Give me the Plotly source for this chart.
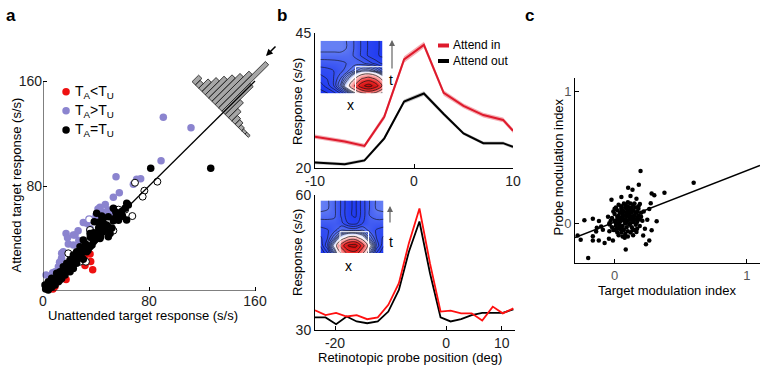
import numpy as np
import plotly.graph_objects as go

W, H = 767, 370
FONT = "Liberation Sans, Arial, Helvetica, sans-serif"

# ---------------- Panel a data ----------------
unity_x = [0, 160]
unity_y = [0, 160]
a_ticks = [0, 80, 160]

red_pts = [(31.7, 27.0), (35.5, 28.2), (36.0, 22.5), (31.7, 19.5), (37.5, 16.2),
           (17.4, 8.7), (9.0, 3.5), (7.5, 1.5)]
purple_pts = [(90.8, 132.3), (111.7, 124.4), (89.1, 99.3), (55.1, 87.1), (57.6, 74.9),
              (53.1, 71.4), (70.7, 85.1), (73.7, 85.6), (68.2, 81.3), (43.0, 63.8),
              (49.3, 61.7), (51.8, 59.2), (45.5, 60.2), (41.5, 62.5), (30.4, 52.1),
              (39.2, 54.1), (35.5, 46.5), (33.0, 51.6), (24.2, 42.7), (17.4, 43.9),
              (22.9, 42.7), (19.1, 35.8), (15.3, 30.0), (14.0, 25.0), (22.9, 35.0),
              (21.6, 26.1), (14.1, 28.7), (7.3, 14.0), (2.3, 12.2), (11.6, 18.5),
              (9.1, 14.7), (6.5, 10.8), (35.5, 47.7), (18.5, 40.5), (27.0, 38.5),
              (12.5, 22.0), (26.5, 46.0), (47.0, 66.0), (40.0, 57.5), (36.5, 41.0)]
purple_open_pts = [(34.9, 54.6)]
black_pts = [(81.3, 93.5), (126.6, 93.5), (64.4, 65.5), (61.9, 63.0), (59.4, 60.5),
             (56.1, 56.6), (53.1, 53.6), (49.3, 56.6), (44.3, 57.1), (43.0, 52.8),
             (48.0, 50.3), (45.5, 45.2), (50.6, 43.9), (41.8, 41.4), (38.0, 37.6),
             (39.2, 43.9), (35.5, 33.8), (33.0, 29.9), (30.4, 24.2), (29.2, 28.7),
             (25.4, 21.1), (22.9, 17.2), (20.4, 14.7), (17.9, 16.0), (16.6, 12.2),
             (14.1, 9.6), (11.6, 7.1), (9.1, 4.6), (6.5, 2.8), (4.0, 0.8),
             (15.3, 18.5), (12.8, 14.7), (63.2, 66.8), (41.8, 52.1), (43.5, 41.4),
             (39.2, 38.9), (35.5, 43.9), (30.4, 38.9), (31.7, 33.8), (27.9, 33.8),
             (25.4, 30.0), (22.9, 27.4), (20.4, 23.6), (17.9, 21.1), (10.3, 13.5),
             (6.5, 9.7), (4.0, 7.1), (1.5, 4.6), (63.1, 54.1), (53.1, 63.0),
             (54.3, 55.4), (45.5, 55.4), (40.5, 59.2), (38.7, 52.8), (43.0, 46.5),
             (49.3, 41.4), (43.0, 40.0), (38.2, 44.4), (35.7, 40.9), (28.0, 30.0),
             (26.0, 25.0), (24.0, 24.0), (32.0, 36.0), (34.0, 31.0), (37.0, 35.0),
             (19.0, 19.0), (21.0, 20.0), (8.0, 6.0), (10.0, 9.0), (3.0, 3.0),
             (5.0, 5.0), (2.0, 1.5), (13.0, 11.0), (27.0, 27.0), (58.0, 58.0),
             (47.0, 47.0), (52.0, 48.0), (57.0, 54.0), (60.0, 57.0), (55.0, 60.0),
             (46.0, 51.0), (42.0, 48.0)]
open_pts = [(69.4, 82.5), (76.5, 76.4), (75.2, 71.9), (86.3, 83.3), (67.4, 57.1),
            (53.1, 46.0), (54.3, 62.2), (35.5, 46.5), (27.9, 22.3), (12.8, 8.4),
            (19.1, 28.7), (49.3, 45.7), (24.9, 23.1), (32.4, 22.3), (57.0, 62.0),
            (62.0, 62.0), (45.0, 49.0), (40.0, 42.0)]
# histogram of attention effect (bar lengths, upper-left to lower-right)
hist_counts = [7, 5, 10, 15, 20, 25, 30, 36, 50, 30, 16, 10, 6, 5, 3, 2, 2]

# ---------------- Panel b data ----------------
top_x = [-10, -7, -5, -3, -1, 1, 3, 5, 7, 9, 10]
attend_in = [25.8, 24.9, 24.1, 29.5, 40.1, 42.8, 33.9, 31.5, 29.8, 28.9, 26.9]
attend_out = [21.0, 20.7, 21.4, 25.5, 32.3, 33.8, 30.0, 26.4, 24.6, 24.6, 23.9]
in_sem = [0.4, 0.4, 0.4, 0.5, 0.6, 0.6, 0.5, 0.45, 0.45, 0.45, 0.4]
out_sem = [0.3, 0.3, 0.3, 0.35, 0.4, 0.4, 0.35, 0.3, 0.3, 0.3, 0.3]

probe_x = [-23.6, -21.7, -19.8, -17.9, -16.1, -14.2, -12.3, -10.4, -8.5, -6.7,
           -4.8, -2.9, -1.0, 0.8, 2.7, 4.6, 6.5, 8.4, 10.2, 12.1]
probe_in = [34.4, 33.3, 33.8, 33.0, 33.3, 32.4, 32.8, 35.6, 40.4, 49.3,
            57.0, 44.8, 34.1, 34.3, 33.7, 33.7, 32.1, 35.2, 33.7, 34.8]
probe_out = [32.8, 32.8, 31.3, 33.0, 31.9, 31.5, 31.9, 34.1, 38.9, 47.4,
             54.1, 42.6, 32.8, 31.9, 32.4, 33.3, 33.8, 33.8, 33.8, 34.6]

# inset receptive-field maps (profiles along time rows and space columns)
rf1_pt = [0.66, 0.6, 0.54, 0.48, 0.42, 0.36, 0.3, 0.3]
rf1_qx = [0.3, 0.3, 0.3, 0.3, 0.34, 0.4, 0.46, 0.52, 0.56, 0.58]
rf1_bt = [0.45, 1.0, 0.6, 0.2, 0.05, 0.0, 0.0, 0.0]
rf1_bx = [0.0, 0.03, 0.08, 0.18, 0.35, 0.6, 0.88, 1.0, 0.85, 0.55]
rf2_pt = [0.66, 0.6, 0.54, 0.48, 0.42, 0.36, 0.3, 0.3]
rf2_qx = [0.3, 0.32, 0.38, 0.46, 0.56, 0.58, 0.48, 0.39, 0.32, 0.3]
rf2_bt = [0.7, 1.0, 0.45, 0.12, 0.02, 0.0, 0.0, 0.0]
rf2_bx = [0.02, 0.1, 0.3, 0.65, 0.95, 1.0, 0.65, 0.3, 0.1, 0.02]
rf_gain = 2.0

# ---------------- Panel c data ----------------
c_points = [(0.598, 0.308), (0.196, 0.396), (0.183, 0.293), (0.102, 0.269), (0.135, 0.255),
            (0.12, 0.207), (0.165, 0.187), (0.051, 0.199), (-0.024, 0.179), (0.28, 0.225),
            (0.30, 0.212), (0.377, 0.232), (0.273, 0.152), (0.191, 0.147), (0.262, 0.109),
            (0.318, 0.015), (0.247, 0.028), (0.229, -0.04), (0.28, -0.053), (0.216, -0.091),
            (0.262, -0.129), (0.237, -0.159), (0.165, -0.066), (0.135, -0.053), (0.084, -0.197),
            (0.076, -0.109), (0.051, -0.048), (-0.038, -0.008), (-0.229, 0.023), (-0.165, 0.035),
            (-0.119, 0.018), (-0.28, -0.091), (-0.257, -0.124), (-0.165, -0.098), (-0.165, -0.129),
            (-0.12, -0.129), (-0.076, -0.149), (-0.043, -0.116), (-0.013, -0.129), (-0.20, -0.263),
            (-0.135, -0.033), (-0.102, -0.023), (-0.089, -0.048), (-0.14, -0.061),
            (0.00, 0.02), (0.02, 0.05), (0.04, 0.08), (0.06, 0.10), (0.08, 0.12),
            (0.10, 0.13), (0.12, 0.11), (0.14, 0.10), (0.16, 0.08), (0.18, 0.06),
            (0.01, -0.02), (0.03, 0.00), (0.05, 0.03), (0.07, 0.06), (0.09, 0.08),
            (0.11, 0.07), (0.13, 0.05), (0.15, 0.03), (0.17, 0.01), (0.19, 0.03),
            (-0.02, 0.04), (0.00, 0.07), (0.02, 0.10), (0.05, 0.13), (0.07, 0.15),
            (0.10, 0.16), (0.12, 0.15), (0.14, 0.14), (0.16, 0.12), (0.18, 0.11),
            (-0.04, 0.00), (-0.02, -0.03), (0.00, -0.05), (0.02, -0.07), (0.04, -0.04),
            (0.06, -0.02), (0.08, 0.00), (0.10, 0.02), (0.12, 0.03), (0.14, 0.01),
            (0.03, -0.09), (0.05, -0.07), (0.07, -0.05), (0.09, -0.03), (0.11, -0.01),
            (0.13, -0.03), (0.15, -0.05), (0.06, -0.10), (0.08, -0.08), (0.10, -0.06),
            (0.01, 0.12), (0.03, 0.14), (-0.01, 0.09), (0.04, 0.01), (0.06, 0.05),
            (0.08, 0.03), (0.09, 0.11), (0.11, 0.10), (0.13, 0.08), (0.15, 0.06),
            (0.17, 0.04), (0.20, 0.08), (0.21, 0.02), (0.19, -0.02), (0.17, -0.04),
            (0.05, 0.09), (0.07, 0.02), (0.02, 0.03), (-0.03, 0.02), (-0.05, 0.05),
            (0.12, -0.07), (0.14, -0.09), (0.16, -0.01), (0.18, 0.13), (0.11, 0.04),
            (0.09, 0.06), (0.07, 0.09), (0.05, 0.11), (0.03, 0.06), (0.01, 0.00),
            (-0.01, -0.05), (0.04, -0.02), (0.10, -0.10), (0.13, 0.12), (0.20, 0.05),
            (0.22, 0.09), (0.08, 0.14), (0.06, 0.07), (0.12, 0.00), (0.00, 0.11),
            (0.15, 0.15), (0.17, 0.09), (0.09, 0.01), (0.06, -0.05), (0.02, -0.04),
            (-0.04, -0.06), (0.10, 0.09), (0.14, 0.04), (0.04, 0.04), (0.08, 0.06)]
fit_slope = 0.39
fit_intercept = 0.01
fit_x = [-0.3, 1.1]
c_ticks = [0, 1]


def unzip(pts):
    return [p[0] for p in pts], [p[1] for p in pts]


def PX(x):
    return x / W


def PY(y):
    return 1 - y / H


fig = go.Figure()

# ---- panel a: histogram drawn along the anti-diagonal ----
hist_start = np.array([112.5, 159.5])
bin_w = 3.53
e_dir = np.array([1, -1]) / np.sqrt(2)
n_dir = np.array([1, 1]) / np.sqrt(2)
hx, hy = [], []
for k, L in enumerate(hist_counts):
    b0 = hist_start + k * bin_w * e_dir
    b1 = hist_start + (k + 1) * bin_w * e_dir
    corners = [b0, b1, b1 + L * n_dir, b0 + L * n_dir, b0]
    hx += [c[0] for c in corners] + [None]
    hy += [c[1] for c in corners] + [None]
fig.add_trace(go.Scatter(x=hx, y=hy, mode="lines", fill="toself", fillcolor="#a6a6a6",
                         line=dict(color="#2a2a2a", width=0.9), xaxis="x", yaxis="y",
                         hoverinfo="skip", showlegend=False))

mk = dict(size=7.5, line=dict(width=0))
x_, y_ = unzip(purple_pts)
fig.add_trace(go.Scatter(x=x_, y=y_, mode="markers", marker=dict(color="#8b84cf", **mk),
                         cliponaxis=False, showlegend=False))
x_, y_ = unzip(purple_open_pts)
fig.add_trace(go.Scatter(x=x_, y=y_, mode="markers",
                         marker=dict(color="white", size=7, line=dict(color="#8b84cf", width=1.2)),
                         cliponaxis=False, showlegend=False))
x_, y_ = unzip(red_pts)
fig.add_trace(go.Scatter(x=x_, y=y_, mode="markers", marker=dict(color="#ee1111", **mk),
                         cliponaxis=False, showlegend=False))
x_, y_ = unzip(open_pts)
fig.add_trace(go.Scatter(x=x_, y=y_, mode="markers",
                         marker=dict(color="white", size=7, line=dict(color="black", width=1)),
                         cliponaxis=False, showlegend=False))
x_, y_ = unzip(black_pts)
fig.add_trace(go.Scatter(x=x_, y=y_, mode="markers", marker=dict(color="black", **mk),
                         cliponaxis=False, showlegend=False))
fig.add_trace(go.Scatter(x=unity_x, y=unity_y, mode="lines", line=dict(color="black", width=1.3),
                         showlegend=False, hoverinfo="skip"))
# legend markers
fig.add_trace(go.Scatter(x=[17.4, 17.4, 17.4], y=[151.8, 137.4, 122.7], mode="markers",
                         marker=dict(color=["#ee1111", "#8b84cf", "black"], size=7.5),
                         cliponaxis=False, showlegend=False, hoverinfo="skip"))

# ---- panel b top ----
up = [v + s for v, s in zip(attend_in, in_sem)]
lo = [v - s for v, s in zip(attend_in, in_sem)]
fig.add_trace(go.Scatter(x=top_x, y=lo, mode="lines", line=dict(width=0), xaxis="x2", yaxis="y2",
                         showlegend=False, hoverinfo="skip"))
fig.add_trace(go.Scatter(x=top_x, y=up, mode="lines", line=dict(width=0), fill="tonexty",
                         fillcolor="rgba(236,110,120,0.55)", xaxis="x2", yaxis="y2",
                         showlegend=False, hoverinfo="skip"))
up = [v + s for v, s in zip(attend_out, out_sem)]
lo = [v - s for v, s in zip(attend_out, out_sem)]
fig.add_trace(go.Scatter(x=top_x, y=lo, mode="lines", line=dict(width=0), xaxis="x2", yaxis="y2",
                         showlegend=False, hoverinfo="skip"))
fig.add_trace(go.Scatter(x=top_x, y=up, mode="lines", line=dict(width=0), fill="tonexty",
                         fillcolor="rgba(150,150,150,0.55)", xaxis="x2", yaxis="y2",
                         showlegend=False, hoverinfo="skip"))
fig.add_trace(go.Scatter(x=top_x, y=attend_in, mode="lines", line=dict(color="#de1a2c", width=2),
                         xaxis="x2", yaxis="y2", showlegend=False))
fig.add_trace(go.Scatter(x=top_x, y=attend_out, mode="lines", line=dict(color="black", width=2),
                         xaxis="x2", yaxis="y2", showlegend=False))

# ---- panel b bottom ----
fig.add_trace(go.Scatter(x=probe_x, y=probe_out, mode="lines", line=dict(color="black", width=1.8),
                         xaxis="x3", yaxis="y3", showlegend=False))
fig.add_trace(go.Scatter(x=probe_x, y=probe_in, mode="lines", line=dict(color="#ff1010", width=1.8),
                         xaxis="x3", yaxis="y3", showlegend=False))

# ---- insets ----
cscale = [[0.0, "#1630f0"], [0.1, "#3550f2"], [0.167, "#6680f4"], [0.25, "#b0bff8"],
          [0.3056, "#ffffff"], [0.42, "#ffb0b0"], [0.63, "#f03030"], [1.0, "#c40000"]]


def rf_map(pt, qx, bt, bx):
    return -np.maximum.outer(np.array(pt), np.array(qx)) + rf_gain * np.outer(bt, bx)


for (pt, qx, bt, bx), xa, ya in [((rf1_pt, rf1_qx, rf1_bt, rf1_bx), "x5", "y5"),
                                 ((rf2_pt, rf2_qx, rf2_bt, rf2_bx), "x6", "y6")]:
    z = rf_map(pt, qx, bt, bx)
    fig.add_trace(go.Contour(z=z, x=list(range(len(qx))), y=list(range(len(pt))),
                             xaxis=xa, yaxis=ya, colorscale=cscale, zmin=-0.66, zmax=1.5,
                             zauto=False, showscale=False, hoverinfo="skip",
                             contours=dict(coloring="heatmap", start=-0.63, end=-0.05, size=0.06),
                             line=dict(color="#111", width=0.6, smoothing=1.0)))
    fig.add_trace(go.Contour(z=z, x=list(range(len(qx))), y=list(range(len(pt))),
                             xaxis=xa, yaxis=ya, showscale=False, hoverinfo="skip",
                             contours=dict(coloring="none", start=0.2, end=1.4, size=0.35),
                             line=dict(color="#111", width=0.7, smoothing=1.0)))

# ---- panel c ----
x_, y_ = unzip(c_points)
fig.add_trace(go.Scatter(x=x_, y=y_, mode="markers", marker=dict(color="black", size=4.5),
                         xaxis="x4", yaxis="y4", cliponaxis=False, showlegend=False))
fig.add_trace(go.Scatter(x=fit_x, y=[fit_intercept + fit_slope * v for v in fit_x], mode="lines",
                         line=dict(color="black", width=1.5), xaxis="x4", yaxis="y4",
                         showlegend=False))

ax_common = dict(showgrid=False, zeroline=False, ticks="inside", ticklen=4, tickwidth=1,
                 tickcolor="black", tickfont=dict(size=14, color="#222", family=FONT),
                 linecolor="black", linewidth=1, fixedrange=True, automargin=False)
hidden = dict(visible=False, fixedrange=True, automargin=False)

layout_axes = dict(
    xaxis=dict(domain=[PX(43), PX(281.5)], range=[0, 180], tickvals=a_ticks,
               ticktext=[str(v) for v in a_ticks], showline=False, anchor="y", **ax_common),
    yaxis=dict(domain=[PY(291), PY(48.2)], range=[0, 185], tickvals=a_ticks,
               ticktext=[" ", "80", "160"], showline=False, anchor="x", **ax_common),
    xaxis2=dict(domain=[PX(315), PX(513)], range=[-10, 10], tickvals=[-10, 0, 10],
                ticktext=["-10", "0", "10"], showline=True, anchor="y2", **ax_common),
    yaxis2=dict(domain=[PY(168), PY(33)], range=[20, 45], tickvals=[20, 45],
                showline=True, anchor="x2", **ax_common),
    xaxis3=dict(domain=[PX(315), PX(515)], range=[-23.6, 12.4], tickvals=[-20, 0, 10],
                ticktext=["-20", "0", "10"], showline=True, anchor="y3", **ax_common),
    yaxis3=dict(domain=[PY(330), PY(195)], range=[30, 60], tickvals=[30, 60],
                showline=True, anchor="x3", **ax_common),
    xaxis4=dict(domain=[PX(575), PX(760)], range=[-0.3, 1.1], tickvals=c_ticks,
                showline=True, anchor="y4", **ax_common),
    yaxis4=dict(domain=[PY(263), PY(78)], range=[-0.3, 1.1], tickvals=c_ticks,
                showline=True, anchor="x4", **ax_common),
    xaxis5=dict(domain=[PX(317), PX(386)], range=[-0.5, 9.5], anchor="y5", **hidden),
    yaxis5=dict(domain=[PY(97), PY(37)], range=[-0.5, 7.5], anchor="x5", **hidden),
    xaxis6=dict(domain=[PX(317), PX(387)], range=[-0.5, 9.5], anchor="y6", **hidden),
    yaxis6=dict(domain=[PY(256.7), PY(196.7)], range=[-0.5, 7.5], anchor="x6", **hidden),
)
layout_axes["xaxis4"]["tickfont"] = dict(size=13, color="#555", family=FONT)
layout_axes["yaxis4"]["tickfont"] = dict(size=13, color="#555", family=FONT)

shapes = [
    dict(type="line", xref="x", yref="y", x0=0, y0=0, x1=160, y1=0, line=dict(color="black", width=1)),
    dict(type="line", xref="x", yref="y", x0=0, y0=0, x1=0, y1=160, line=dict(color="black", width=1)),
    # inset white boxes
    dict(type="rect", xref="paper", yref="paper", x0=PX(355.5), x1=PX(385.5), y0=PY(96.5), y1=PY(66.7),
         line=dict(color="white", width=1)),
    dict(type="rect", xref="paper", yref="paper", x0=PX(340), x1=PX(368.5), y0=PY(255.5), y1=PY(231.7),
         line=dict(color="white", width=1)),
    # legend line samples panel b
    dict(type="line", xref="paper", yref="paper", x0=PX(438), x1=PX(449), y0=PY(45.5), y1=PY(45.5),
         line=dict(color="#de1a2c", width=4)),
    dict(type="line", xref="paper", yref="paper", x0=PX(438), x1=PX(449), y0=PY(61), y1=PY(61),
         line=dict(color="black", width=4)),
]


def ann(x, y, text, size=13, xanchor="center", yanchor="middle", angle=0, bold=False, color="black"):
    if bold:
        text = "<b>" + text + "</b>"
    return dict(x=PX(x), y=PY(y), xref="paper", yref="paper", text=text, showarrow=False,
                xanchor=xanchor, yanchor=yanchor, textangle=angle,
                font=dict(size=size, family=FONT, color=color))


annotations = [
    ann(11, 15, "a", size=17, bold=True),
    ann(282, 15, "b", size=17, bold=True),
    ann(529, 15, "c", size=17, bold=True),
    ann(143, 315, "Unattended target response (s/s)"),
    ann(15.5, 185, "Attended target response (s/s)", angle=-90),
    ann(73, 92, "T<sub>A</sub>&lt;T<sub>U</sub>", size=14, xanchor="left"),
    ann(73, 111, "T<sub>A</sub>&gt;T<sub>U</sub>", size=14, xanchor="left"),
    ann(73, 130, "T<sub>A</sub>=T<sub>U</sub>", size=14, xanchor="left"),
    ann(297, 102, "Response (s/s)", angle=-90),
    ann(297, 253, "Response (s/s)", angle=-90),
    ann(410, 357, "Retinotopic probe position (deg)"),
    ann(451, 45.5, "Attend in", size=12, xanchor="left"),
    ann(451, 61, "Attend out", size=12, xanchor="left"),
    ann(390.5, 80, "t", size=14),
    ann(350, 105, "x", size=14),
    ann(390.5, 241.5, "t", size=14),
    ann(348.5, 266, "x", size=14),
    ann(557.5, 167, "Probe modulation index", angle=-90),
    ann(667, 290, "Target modulation index"),
    # arrows
    dict(x=PX(266), y=PY(56), xref="paper", yref="paper", ax=11, ay=-11, showarrow=True,
         arrowhead=2, arrowsize=0.9, arrowwidth=1.5, arrowcolor="black", text=""),
    dict(x=PX(392), y=PY(40), xref="paper", yref="paper", ax=0, ay=30, showarrow=True,
         arrowhead=2, arrowsize=1, arrowwidth=1.2, arrowcolor="#666", text=""),
    dict(x=PX(390), y=PY(206), xref="paper", yref="paper", ax=0, ay=18, showarrow=True,
         arrowhead=2, arrowsize=1, arrowwidth=1.2, arrowcolor="#666", text=""),
]

fig.update_layout(width=W, height=H, autosize=False, margin=dict(l=0, r=0, t=0, b=0, pad=0),
                  paper_bgcolor="white", plot_bgcolor="rgba(0,0,0,0)",
                  font=dict(family=FONT, color="black"), showlegend=False,
                  shapes=shapes, annotations=annotations, **layout_axes)

fig.write_html("out.html", config={"displayModeBar": False},
               post_script="document.body.style.margin='0px';document.body.style.overflow='hidden';")
